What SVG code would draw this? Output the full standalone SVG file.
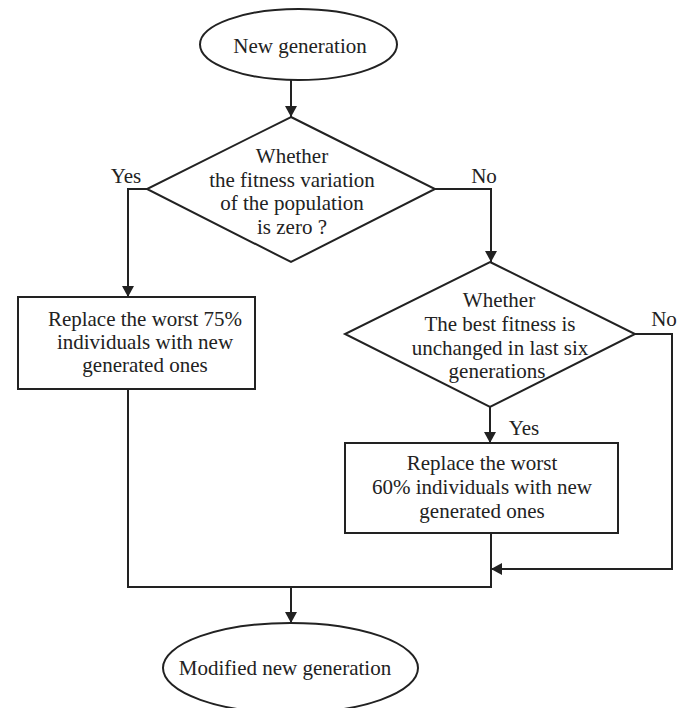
<svg xmlns="http://www.w3.org/2000/svg" width="691" height="708" viewBox="0 0 691 708">
<style>
.shape{fill:#fff;stroke:#222;stroke-width:2}
.conn{fill:none;stroke:#222;stroke-width:2}
text{font-family:"Liberation Serif","Times New Roman",serif;font-size:21px;fill:#222;text-anchor:middle}
</style>
<defs>
<marker id="arr" markerUnits="userSpaceOnUse" markerWidth="12" markerHeight="12" refX="11" refY="6" orient="auto">
<path d="M0,0 L11,6 L0,12 z" fill="#222"/>
</marker>
</defs>
<rect width="691" height="708" fill="#fff"/>
<g id="connectors">
<path class="conn" d="M291,80 V117" marker-end="url(#arr)"/>
<path class="conn" d="M147,189 H128 V297" marker-end="url(#arr)"/>
<path class="conn" d="M435,189 H491 V262" marker-end="url(#arr)"/>
<path class="conn" d="M490,407 V443" marker-end="url(#arr)"/>
<path class="conn" d="M635,334 H672 V569 H491" marker-end="url(#arr)"/>
<path class="conn" d="M128,389 V587 H491 V533"/>
<path class="conn" d="M291,587 V623" marker-end="url(#arr)"/>
<text x="126" y="183">Yes</text>
<text x="484" y="183">No</text>
<text x="664" y="326">No</text>
<text x="524" y="435">Yes</text>
</g>
<g id="start">
<ellipse class="shape" cx="298.5" cy="44.5" rx="98.5" ry="35.5"/>
<text x="300" y="53">New generation</text>
</g>
<g id="decision1">
<polygon class="shape" points="291,117 435,189 291,262 147,189"/>
<text x="292" y="163">Whether</text>
<text x="292" y="186.5">the fitness variation</text>
<text x="292" y="210">of the population</text>
<text x="292" y="233.5">is zero ?</text>
</g>
<g id="replace75">
<rect class="shape" x="18" y="297" width="237" height="92"/>
<text x="145" y="326">Replace the worst 75%</text>
<text x="145" y="349">individuals with new</text>
<text x="145" y="372">generated ones</text>
</g>
<g id="decision2">
<polygon class="shape" points="490,262 635,334 490,407 345,334"/>
<text x="499" y="307">Whether</text>
<text x="500" y="330.5">The best fitness is</text>
<text x="500" y="354.5">unchanged in last six</text>
<text x="497" y="378">generations</text>
</g>
<g id="replace60">
<rect class="shape" x="345" y="443" width="273" height="90"/>
<text x="482" y="470">Replace the worst</text>
<text x="482" y="494">60% individuals with new</text>
<text x="482" y="518">generated ones</text>
</g>
<g id="end">
<ellipse class="shape" cx="290.5" cy="668" rx="127.5" ry="45"/>
<text x="285" y="675">Modified new generation</text>
</g>
</svg>
